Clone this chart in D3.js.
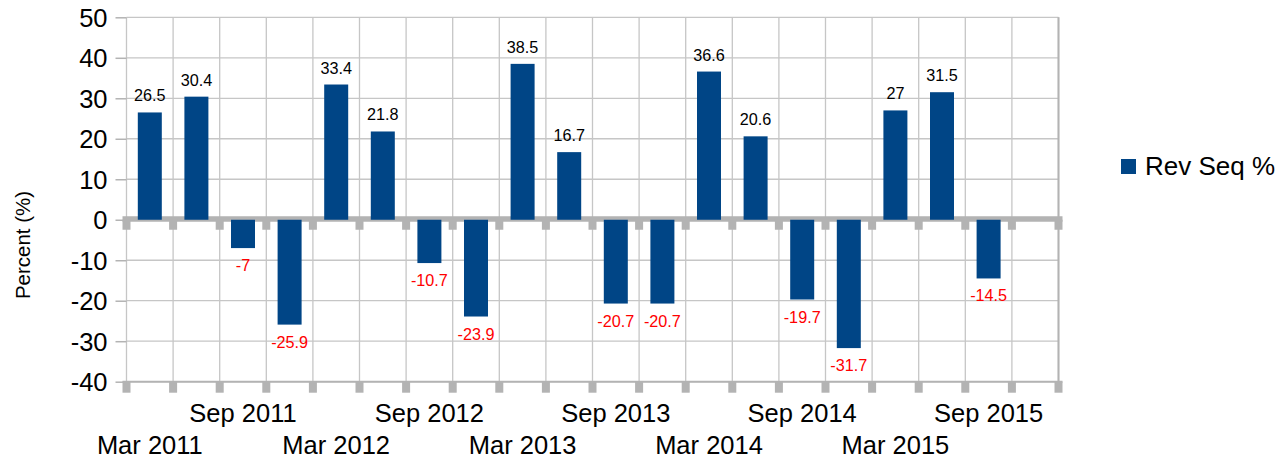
<!DOCTYPE html>
<html>
<head>
<meta charset="utf-8">
<script src="https://cdn.jsdelivr.net/npm/d3@7"></script>
<style>
  body { margin: 0; background: #fff; }
  svg text { font-family: "Liberation Sans", Arial, sans-serif; }
</style>
</head>
<body>
<div id="chart"></div>
<script>
//Quarterly categories (last one has no value)
var quarters = ["Mar 2011", "Jun 2011", "Sep 2011", "Dec 2011",
                "Mar 2012", "Jun 2012", "Sep 2012", "Dec 2012",
                "Mar 2013", "Jun 2013", "Sep 2013", "Dec 2013",
                "Mar 2014", "Jun 2014", "Sep 2014", "Dec 2014",
                "Mar 2015", "Jun 2015", "Sep 2015", "Dec 2015"];
var revSeq = [26.5, 30.4, -7, -25.9, 33.4, 21.8, -10.7, -23.9, 38.5, 16.7,
              -20.7, -20.7, 36.6, 20.6, -19.7, -31.7, 27, 31.5, -14.5, null];
var yTicks = [50, 40, 30, 20, 10, 0, -10, -20, -30, -40];
var shownUpper = ["Sep 2011", "Sep 2012", "Sep 2013", "Sep 2014", "Sep 2015"];
var shownLower = ["Mar 2011", "Mar 2012", "Mar 2013", "Mar 2014", "Mar 2015"];
var seriesName = "Rev Seq %";

var width = 1288, height = 458;
var margin = {left: 126.5, right: 1288 - 1058.5, top: 17.3, bottom: 458 - 381.7};

var svg = d3.select("#chart").append("svg")
    .attr("width", width)
    .attr("height", height);

var x = d3.scaleBand()
    .domain(quarters)
    .range([margin.left, width - margin.right])
    .paddingInner(0.485)
    .paddingOuter(0.2425);
var step = x.step();

var y = d3.scaleLinear()
    .domain([-40, 50])
    .range([height - margin.bottom, margin.top]);

var grey = "#b3b3b3", gridCol = "#c6c6c6", barCol = "#004586";

//Gridlines
var grid = svg.append("g").attr("class", "grid");
grid.selectAll("line.h")
    .data(yTicks)
    .enter().append("line")
    .attr("class", "h")
    .attr("x1", margin.left).attr("x2", width - margin.right)
    .attr("y1", function (d) { return y(d) }).attr("y2", function (d) { return y(d) })
    .attr("stroke", gridCol).attr("stroke-width", 1.3);

//vertical lines at category boundaries
var bounds = quarters.map(function (q) { return x(q) - (step - x.bandwidth()) / 2 });
bounds.push(width - margin.right);
grid.selectAll("line.v")
    .data(bounds)
    .enter().append("line")
    .attr("class", "v")
    .attr("x1", function (d) { return d }).attr("x2", function (d) { return d })
    .attr("y1", margin.top).attr("y2", y(-40))
    .attr("stroke", gridCol).attr("stroke-width", 1.3);

//frame right edge slightly heavier
svg.append("line")
    .attr("x1", width - margin.right).attr("x2", width - margin.right)
    .attr("y1", margin.top).attr("y2", y(-40))
    .attr("stroke", grey).attr("stroke-width", 2);

//Y axis (plain hyphen minus like the original)
var yAxis = svg.append("g")
    .attr("transform", "translate(" + margin.left + ",0)")
    .call(d3.axisLeft(y).tickValues(yTicks).tickSize(11).tickPadding(8)
        .tickFormat(function (d) { return String(d) }));
yAxis.select(".domain").remove();
yAxis.selectAll(".tick line").attr("stroke", grey).attr("stroke-width", 1.5);
yAxis.selectAll(".tick text")
    .attr("font-size", 25.5)
    .attr("fill", "#000")
    .attr("dy", "0.36em");

//Bottom axis line with square ticks
svg.append("line")
    .attr("x1", margin.left - 4).attr("x2", width - margin.right + 4)
    .attr("y1", y(-40)).attr("y2", y(-40))
    .attr("stroke", grey).attr("stroke-width", 2);
svg.append("g").selectAll("rect")
    .data(bounds)
    .enter().append("rect")
    .attr("x", function (d) { return d - 4 })
    .attr("y", y(-40))
    .attr("width", 8).attr("height", 11)
    .attr("fill", grey);

//Zero axis band with square ticks
svg.append("rect")
    .attr("x", margin.left - 4)
    .attr("y", y(0) - 3.5)
    .attr("width", width - margin.right - margin.left + 8)
    .attr("height", 5.5)
    .attr("fill", grey);
svg.append("g").selectAll("rect")
    .data(bounds)
    .enter().append("rect")
    .attr("x", function (d) { return d - 4 })
    .attr("y", y(0))
    .attr("width", 8).attr("height", 10)
    .attr("fill", grey);

//Bars
var data = quarters.map(function (q, i) { return {q: q, v: revSeq[i]} })
    .filter(function (d) { return d.v !== null });

svg.append("g").selectAll("rect")
    .data(data)
    .enter().append("rect")
    .attr("x", function (d) { return x(d.q) })
    .attr("width", x.bandwidth())
    .attr("y", function (d) { return y(Math.max(0, d.v)) })
    .attr("height", function (d) { return Math.abs(y(d.v) - y(0)) })
    .attr("fill", barCol);

//Value labels
svg.append("g").selectAll("text")
    .data(data)
    .enter().append("text")
    .attr("x", function (d) { return x(d.q) + x.bandwidth() / 2 })
    .attr("y", function (d) { return d.v >= 0 ? y(d.v) - 11 : y(d.v) + 23 })
    .attr("text-anchor", "middle")
    .attr("font-size", 16.2)
    .attr("fill", function (d) { return d.v >= 0 ? "#000" : "#ff0000" })
    .text(function (d) { return d.v });

//X category labels (staggered)
svg.append("g").selectAll("text")
    .data(shownUpper)
    .enter().append("text")
    .attr("x", function (d) { return x(d) + x.bandwidth() / 2 })
    .attr("y", 421.5)
    .attr("text-anchor", "middle")
    .attr("font-size", 25.5)
    .text(function (d) { return d });
svg.append("g").selectAll("text")
    .data(shownLower)
    .enter().append("text")
    .attr("x", function (d) { return x(d) + x.bandwidth() / 2 })
    .attr("y", 454)
    .attr("text-anchor", "middle")
    .attr("font-size", 25.5)
    .text(function (d) { return d });

//Axis title
svg.append("text")
    .attr("transform", "translate(30,245) rotate(-90)")
    .attr("text-anchor", "middle")
    .attr("font-size", 20.5)
    .text("Percent (%)");

//Legend
var legend = svg.append("g").attr("transform", "translate(1121,159)");
legend.append("rect")
    .attr("width", 15).attr("height", 15)
    .attr("fill", barCol);
legend.append("text")
    .attr("x", 24).attr("y", 15.5)
    .attr("font-size", 26)
    .text(seriesName);
</script>
</body>
</html>
